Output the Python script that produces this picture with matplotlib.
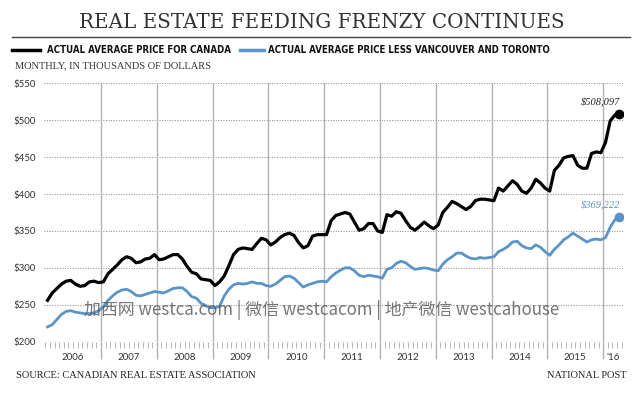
import numpy as np
import matplotlib.pyplot as plt
import matplotlib.transforms as mtransforms

# monthly average prices, thousands of dollars, Jan 2006 - Apr 2016
canada = [256, 266, 272, 278, 282, 283, 278, 275, 276, 281, 282, 280,
          281, 292, 298, 304, 311, 315, 313, 307, 308, 312, 313, 318,
          311, 312, 315, 318, 318, 312, 302, 294, 292, 285, 284, 283,
          276, 281, 289, 303, 318, 325, 327, 326, 325, 333, 340, 338,
          331, 335, 341, 345, 347, 344, 334, 327, 330, 343, 345, 345,
          345, 364, 371, 373, 375, 373, 362, 351, 353, 360, 360, 350,
          348, 372, 370, 376, 374, 364, 355, 351, 356, 362, 357, 353,
          358, 375, 382, 390, 387, 383, 379, 383, 391, 393, 393, 392,
          391, 408, 404, 411, 418, 413, 404, 401, 408, 420, 415, 408,
          404, 432, 439, 449, 451, 452, 439, 435, 435, 455, 457, 456,
          470, 499, 507, 508.097]
less_van_tor = [220, 223, 230, 237, 241, 242, 240, 239, 238, 238, 239, 242,
                247, 256, 262, 267, 270, 271, 268, 263, 262, 264, 266, 268,
                267, 266, 269, 272, 273, 273, 268, 261, 259, 252, 249, 246,
                246, 248, 262, 271, 277, 279, 278, 279, 281, 279, 279, 276,
                275, 278, 283, 288, 289, 286, 280, 274, 277, 279, 281, 282,
                281, 288, 293, 297, 300, 300, 296, 290, 288, 290, 289, 288,
                286, 298, 300, 306, 309, 307, 302, 298, 299, 300, 299, 297,
                296, 305, 311, 315, 320, 320, 316, 313, 312, 314, 313, 314,
                315, 322, 325, 329, 335, 336, 330, 327, 326, 331, 328, 322,
                317, 325, 331, 338, 342, 347, 343, 339, 335, 338, 339, 338,
                341, 355, 365, 369.222]
start_year = 2006
year_labels = ['2006', '2007', '2008', '2009', '2010', '2011', '2012',
               '2013', '2014', '2015', "'16"]
y_ticks = [200, 250, 300, 350, 400, 450, 500, 550]

BLUE = '#5b94c8'
GRID = '#b3b3b3'

months = np.arange(len(canada))
x = start_year + (months + 0.5) / 12

fig = plt.figure(figsize=(6.43, 3.98), dpi=100)
ax = fig.add_axes([0.0684, 0.1415, 0.9005, 0.6492])
ax.set_xlim(2005.978, 2016.355)
ax.set_ylim(200, 550)
for s in ax.spines.values():
    s.set_visible(False)

# grid
for v in y_ticks:
    ax.axhline(v, color='#9a9a9a', lw=0.8, ls=(0, (1, 1.3)), zorder=1)
for yr in range(2007, 2017):
    ax.axvline(yr, color=GRID, lw=1, zorder=1)

ax.set_yticks(y_ticks)
ax.set_yticklabels(['$%d' % v for v in y_ticks], fontsize=7, color='#333333',
                   family='Lato')
ax.tick_params(axis='y', length=0, pad=6)

ax.set_xticks(range(2007, 2017))
ax.set_xticklabels([])
ax.set_xticks(np.arange(2006, 2016.34, 1 / 12), minor=True)
ax.tick_params(axis='x', which='major', length=12, width=1, color=GRID)
ax.tick_params(axis='x', which='minor', length=4, width=0.6, color='#aaaaaa')

trans = mtransforms.blended_transform_factory(ax.transData, ax.transAxes)
label_pos = [y + 0.5 for y in range(2006, 2016)] + [2016.18]
for pos, lab in zip(label_pos, year_labels):
    ax.text(pos, -0.06, lab, transform=trans, ha='center', va='center',
            fontsize=7, color='#333333', family='Lato')

# series
ax.plot(x, less_van_tor, color=BLUE, lw=2.0, zorder=3, solid_joinstyle='round')
ax.plot(x, canada, color='black', lw=2.3, zorder=4, solid_joinstyle='round')
ax.plot(x[-1], less_van_tor[-1], 'o', color=BLUE, ms=6, zorder=5)
ax.plot(x[-1], canada[-1], 'o', color='black', ms=6, zorder=5)
ax.text(x[-1] + 0.02, canada[-1] + 9, '$508,097', ha='right', va='bottom',
        fontsize=7.5, style='italic', family='Liberation Serif', color='#222222')
ax.text(x[-1] + 0.02, less_van_tor[-1] + 9, '$369,222', ha='right', va='bottom',
        fontsize=7.5, style='italic', family='Liberation Serif', color=BLUE)

# header
fig.text(0.5, 0.943, 'REAL ESTATE FEEDING FRENZY CONTINUES', ha='center',
         va='center', fontsize=14.3, family='DejaVu Serif', color='#333333')
fig.add_artist(plt.Line2D([0.019, 0.98], [0.907, 0.907], color='#444444', lw=1))
fig.add_artist(plt.Line2D([0.019, 0.062], [0.875, 0.875], color='black', lw=2.5))
fig.text(0.073, 0.875, 'ACTUAL AVERAGE PRICE FOR CANADA', ha='left', va='center',
         fontsize=6.9, weight='bold', family='DejaVu Sans', stretch='condensed',
         color='#111111')
fig.add_artist(plt.Line2D([0.373, 0.41], [0.875, 0.875], color=BLUE, lw=2.5))
fig.text(0.417, 0.875, 'ACTUAL AVERAGE PRICE LESS VANCOUVER AND TORONTO',
         ha='left', va='center', fontsize=6.9, weight='bold', family='DejaVu Sans',
         stretch='condensed', color='#111111')
fig.text(0.023, 0.835, 'MONTHLY, IN THOUSANDS OF DOLLARS', ha='left', va='center',
         fontsize=7.5, family='Liberation Serif', color='#333333')

# footer
fig.text(0.025, 0.056, 'SOURCE: CANADIAN REAL ESTATE ASSOCIATION', ha='left',
         va='center', fontsize=7.5, family='Liberation Serif', color='#222222')
fig.text(0.975, 0.056, 'NATIONAL POST', ha='right', va='center', fontsize=7.5,
         family='Liberation Serif', color='#222222')

# watermark
fig.text(0.50, 0.222, '加西网 westca.com | 微信 westcacom | 地产微信 westcahouse',
         ha='center', va='center', fontsize=12.2, color='#555555', alpha=0.8,
         family=['Noto Sans CJK SC', 'DejaVu Sans'], zorder=10)

fig.savefig('out.png', dpi=100, facecolor='white')
